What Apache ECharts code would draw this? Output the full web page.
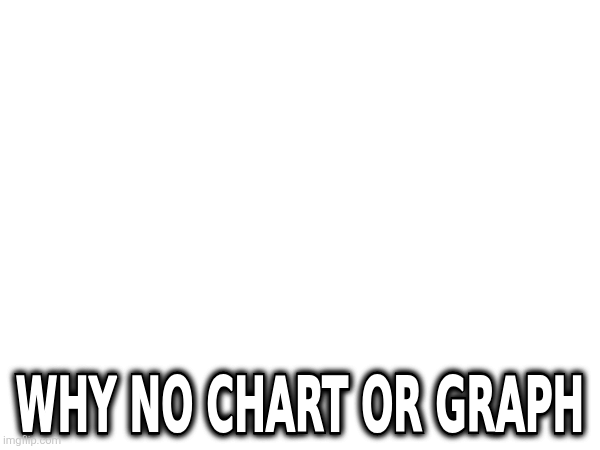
<!DOCTYPE html>
<html>
<head>
<meta charset="utf-8">
<script src="https://cdn.jsdelivr.net/npm/echarts@6/dist/echarts.min.js"></script>
<style>
  html, body { margin: 0; padding: 0; background: #ffffff; }
  #main { width: 600px; height: 450px; }
</style>
</head>
<body>
<div id="main"></div>
<script>
// Content of the reference (a captioned image, no plotted series)
const captionLines = ["WHY NO CHART OR GRAPH"];
const watermarkLabels = ["imgflip.com"];

const chart = echarts.init(document.getElementById('main'), null, { renderer: 'canvas' });

const captionFont = '"Liberation Sans Narrow", "DejaVu Sans Condensed", "Liberation Sans", sans-serif';

const graphics = [];
captionLines.forEach(function (line) {
  // dark blurred halo layers
  [0, 1, 2].forEach(function () {
    graphics.push({
      type: 'text',
      x: 300,
      y: 411,
      scaleX: 0.6,
      scaleY: 1.08,
      style: {
        text: line,
        fontFamily: captionFont,
        fontWeight: 'bold',
        fontSize: 70,
        align: 'center',
        verticalAlign: 'middle',
        fill: '#000000',
        stroke: '#000000',
        lineWidth: 6,
        textShadowColor: 'rgba(0,0,0,1)',
        textShadowBlur: 7
      }
    });
  });
  graphics.push({
    type: 'text',
    x: 300,
    y: 411,
    scaleX: 0.6,
    scaleY: 1.08,
    style: {
      text: line,
      fontFamily: captionFont,
      fontWeight: 'bold',
      fontSize: 70,
      align: 'center',
      verticalAlign: 'middle',
      fill: '#ffffff',
      stroke: '#ffffff',
      lineWidth: 2
    }
  });
});

watermarkLabels.forEach(function (w) {
  graphics.push({
    type: 'text',
    x: 3,
    y: 441,
    style: {
      text: w,
      fontFamily: 'Roboto, "Liberation Sans", sans-serif',
      fontSize: 11,
      align: 'left',
      verticalAlign: 'middle',
      fill: '#c4c4c4'
    }
  });
});

chart.setOption({
  backgroundColor: '#ffffff',
  animation: false,
  graphic: { elements: graphics }
});
</script>
</body>
</html>
